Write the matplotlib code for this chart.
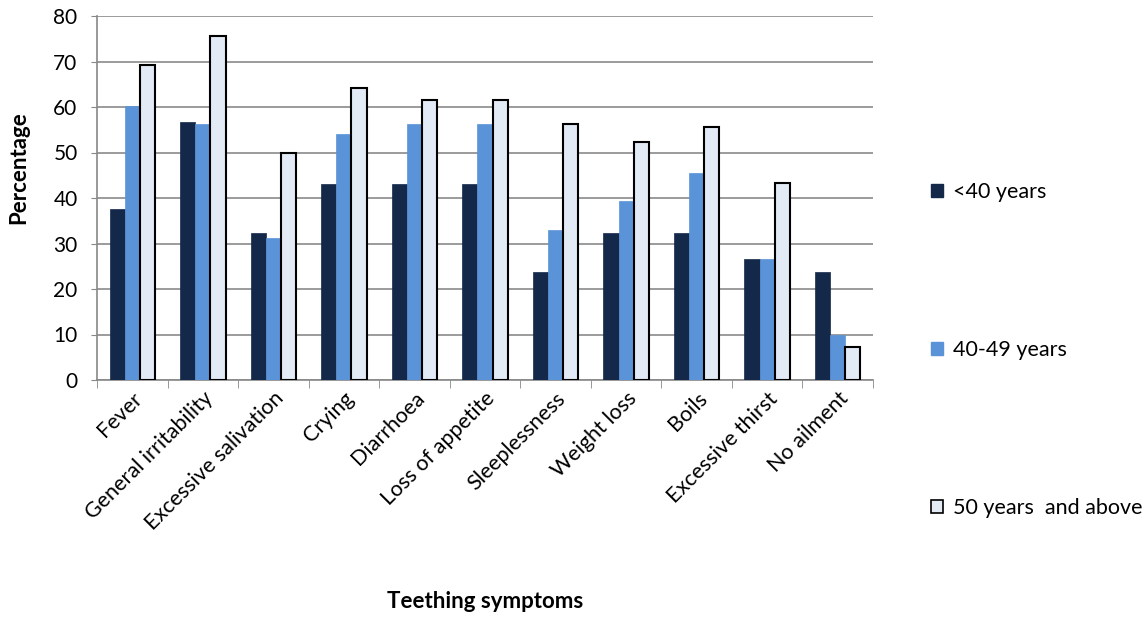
import matplotlib
matplotlib.use("Agg")
import matplotlib.pyplot as plt
import numpy as np
from matplotlib.patches import Patch

categories = ["Fever", "General irritability", "Excessive salivation", "Crying",
              "Diarrhoea", "Loss of appetite", "Sleeplessness", "Weight loss",
              "Boils", "Excessive thirst", "No ailment"]
under40 = [37.6, 56.7, 32.3, 43.0, 43.0, 43.0, 23.8, 32.2, 32.2, 26.7, 23.8]
age40_49 = [60.3, 56.3, 31.1, 54.1, 56.2, 56.2, 33.0, 39.3, 45.4, 26.7, 9.9]
age50plus = [69.3, 75.7, 50.0, 64.2, 61.5, 61.5, 56.3, 52.4, 55.7, 43.4, 7.3]
series_labels = ["<40 years", "40-49 years", "50 years  and above"]
yticks = [0, 10, 20, 30, 40, 50, 60, 70, 80]

plt.rcParams['font.family'] = ['Lato', 'DejaVu Sans']

fig = plt.figure(figsize=(11.47, 6.19), dpi=100)
ax = fig.add_axes([97/1147, 1-380/619, (873-97)/1147, (380-16)/619])

x = np.arange(len(categories))
w = 0.215
c1, c2, c3 = "#14284a", "#5b93d8", "#e2eaf6"
ax.bar(x - w, under40, w, color=c1, edgecolor=c1, linewidth=0.5, zorder=3)
ax.bar(x, age40_49, w, color=c2, edgecolor=c2, linewidth=0.5, zorder=3)
ax.bar(x + w, age50plus, w, color=c3, edgecolor="black", linewidth=1.5, zorder=3)

ax.set_xlim(-0.5, len(categories) - 0.5)
ax.set_ylim(0, 80)
ax.set_yticks(yticks)
ax.tick_params(axis='y', labelsize=15, length=4, color="#888888", direction='out', pad=10)
ax.yaxis.grid(True, color="#8a8a8a", linewidth=1.2, zorder=0)
ax.set_axisbelow(True)

ax.set_xticks(x)
ax.set_xticklabels(categories, rotation=45, ha='right', rotation_mode='anchor', fontsize=15.5)
ax.tick_params(axis='x', length=0, pad=6)
ax.set_xticks(np.arange(-0.5, len(categories) + 0.5, 1), minor=True)
ax.tick_params(axis='x', which='minor', length=6, color="#888888", direction='out')

for s in ['top', 'right']:
    ax.spines[s].set_visible(False)
for s in ['left', 'bottom']:
    ax.spines[s].set_color("#888888")
    ax.spines[s].set_linewidth(1.2)

fig.text(19/1147, 1-168/619, "Percentage", fontsize=16, fontweight='bold',
         rotation=90, ha='center', va='center')
fig.text(485/1147, 1-602/619, "Teething symptoms", fontsize=16, fontweight='bold',
         ha='center', va='center')

handles = [Patch(facecolor=c1, edgecolor=c1),
           Patch(facecolor=c2, edgecolor=c2),
           Patch(facecolor=c3, edgecolor="black", linewidth=1.2)]
fig.legend(handles, series_labels, loc='center left',
           bbox_to_anchor=(912/1147, 1-350/619), frameon=False, fontsize=15.5,
           labelspacing=6.4, handlelength=0.55, handleheight=0.55, handletextpad=0.45)

fig.savefig("out.png", dpi=100)
